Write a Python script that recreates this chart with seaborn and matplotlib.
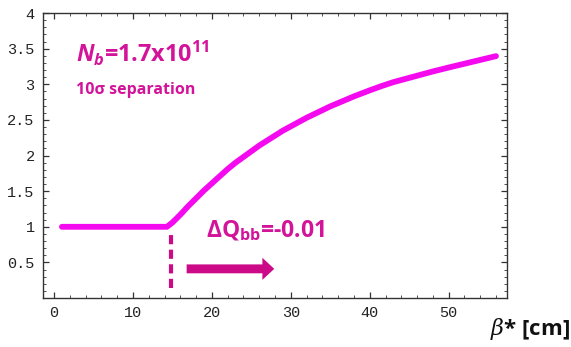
import matplotlib
matplotlib.use("Agg")
import matplotlib.pyplot as plt
import seaborn as sns
import pandas as pd
from matplotlib.ticker import MultipleLocator

# curve: beta* [cm] vs. luminosity gain
beta_star = [1, 14.3, 15, 16, 17, 18, 19, 20, 21, 22, 23, 24, 25, 26, 27, 28, 29, 30, 31, 32,
             33.5, 35, 36.5, 38, 40, 41.5, 43, 44.5, 46, 48, 50, 51.5, 53, 54.5, 56]
gain = [1.0, 1.0, 1.06, 1.17, 1.29, 1.40, 1.51, 1.61, 1.71, 1.81, 1.90, 1.98, 2.06, 2.14,
        2.21, 2.28, 2.35, 2.41, 2.47, 2.53, 2.61, 2.69, 2.76, 2.83, 2.915, 2.975, 3.03, 3.075,
        3.12, 3.18, 3.235, 3.275, 3.315, 3.355, 3.395]

x_ticks = [0, 10, 20, 30, 40, 50]
y_ticks = [0.5, 1, 1.5, 2, 2.5, 3, 3.5, 4]
y_tick_labels = ["0.5", "1", "1.5", "2", "2.5", "3", "3.5", "4"]

CURVE = "#F50AF0"
TEXT = "#D3139A"
ARROW = "#CC0A88"

sns.set_style("ticks")
plt.rcParams["font.family"] = ["Open Sans", "DejaVu Sans"]
plt.rcParams["mathtext.fontset"] = "custom"
plt.rcParams["mathtext.rm"] = "Open Sans:bold"
plt.rcParams["mathtext.bf"] = "Open Sans:bold"
plt.rcParams["mathtext.it"] = "Open Sans:italic:bold"
plt.rcParams["mathtext.sf"] = "DejaVu Serif:italic"

df = pd.DataFrame({"beta": beta_star, "gain": gain})

fig = plt.figure(figsize=(5.71, 3.47), dpi=100)
ax = fig.add_axes([0.0753, 0.141, 0.8127, 0.8215])

sns.lineplot(data=df, x="beta", y="gain", ax=ax, color=CURVE, lw=4.2,
             solid_capstyle="round", solid_joinstyle="round")

# threshold marker and direction arrow
ax.plot([14.8, 14.8], [0.14, 0.93], color=ARROW, lw=3, ls=(0, (2.2, 1.3)))
ax.arrow(16.8, 0.41, 9.6, 0, width=0.125, head_width=0.31, head_length=1.5,
         length_includes_head=False, color=ARROW, lw=0)

ax.text(2.8, 3.31, r"$\mathit{N_b}$=1.7x10$^{11}$", color=TEXT, fontsize=16.8,
        fontweight="bold", va="baseline")
ax.text(2.8, 2.92, "10σ separation", color=TEXT, fontsize=11.5,
        fontweight="bold", va="center")
ax.text(19.2, 0.85, r"$\mathbf{\Delta Q_{bb}}$=-0.01", color=TEXT, fontsize=16.5,
        fontweight="bold", va="baseline")

ax.set_xlim(-1.4, 57.4)
ax.set_ylim(0, 4)
ax.set_xticks(x_ticks)
ax.set_yticks(y_ticks)
ax.set_yticklabels(y_tick_labels)
ax.xaxis.set_minor_locator(MultipleLocator(2))
ax.yaxis.set_minor_locator(MultipleLocator(0.1))
ax.tick_params(which="both", direction="in", top=True, right=True, color="#333333")
ax.tick_params(which="major", length=4, width=0.9, labelsize=11, pad=6)
ax.tick_params(which="minor", length=2, width=0.6)
for lab in ax.get_xticklabels() + ax.get_yticklabels():
    lab.set_family("Liberation Mono")
    lab.set_color("#222222")
for sp in ax.spines.values():
    sp.set_visible(True)
    sp.set_color("#333333")
    sp.set_linewidth(1.0)

ax.set_xlabel("")
ax.set_ylabel("")
fig.text(0.998, 0.035, r"$\mathsf{\beta}$* [cm]", ha="right", va="baseline",
         fontsize=16, fontweight="bold", color="#111111")

fig.savefig("out.png", dpi=100)
